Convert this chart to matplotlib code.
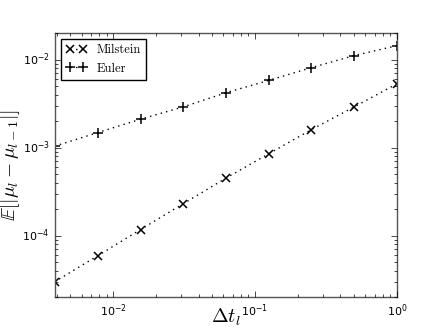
import matplotlib
matplotlib.use("Agg")
import matplotlib.pyplot as plt

plt.style.use("classic")
plt.rcParams['mathtext.fontset'] = 'cm'

dt = [2.0**-k for k in range(0, 9)]
milstein = [0.0053, 0.0029, 0.0016, 0.00085, 0.00045, 0.00023, 0.000117, 5.9e-5, 3.0e-5]
euler = [0.0144, 0.0111, 0.0081, 0.0058, 0.0042, 0.0029, 0.0021, 0.00148, 0.00104]

fig = plt.figure(figsize=(4.41, 3.31), dpi=100)
ax = fig.add_axes([0.125, 0.1027, 0.775, 0.7973])
ax.loglog(dt, milstein, 'k:x', label='Milstein', markersize=6, markeredgewidth=1.1)
ax.loglog(dt, euler, 'k:+', label='Euler', markersize=7, markeredgewidth=1.1)
ax.set_xlim(2.0**-8, 1)
ax.set_ylim(2.0e-5, 2.0e-2)
ax.set_xlabel(r'$\Delta t_l$', fontsize=14.5)
ax.set_ylabel(r'$\mathbb{E}[|\mu_l - \mu_{l-1}|]$', fontsize=14)
ax.xaxis.set_label_coords(0.5, -0.035)
ax.yaxis.set_label_coords(-0.096, 0.5)
ax.tick_params(labelsize=8, pad=4)
for s in ax.spines.values():
    s.set_color('#555555')
ax.legend(loc='upper left', numpoints=2, prop={'family': 'cmr10', 'size': 9},
          fancybox=False, handlelength=1.6, borderaxespad=0.5)
fig.savefig('out.png', dpi=100)
